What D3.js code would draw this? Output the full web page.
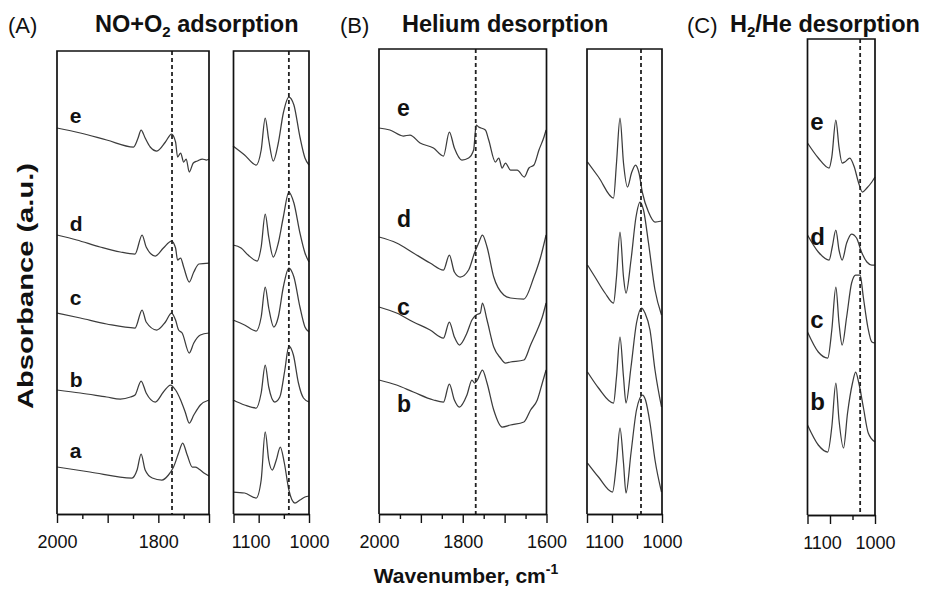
<!DOCTYPE html>
<html><head><meta charset="utf-8">
<script src="https://cdn.jsdelivr.net/npm/d3@7"></script>
<style>
body{margin:0;background:#fff}
svg{display:block}
text{font-family:"Liberation Sans",Arial,Helvetica,sans-serif;fill:#111}
</style>
</head><body>
<svg id="chart" width="925" height="589"></svg>
<script>
// ---------------- DATA (wavenumber cm-1, absorbance a.u.) ----------------
// Panel A, 2000-1700 window
const A1_e = [[2000,38.6],[1954,38.1],[1902,37.4],[1849,36.7],[1840,37.6],[1834,38.4],[1826,37.6],[1816,36.7],[1803,36.3],[1786,37.2],[1774,38.0],[1766,37.2],[1762,35.7],[1756,36.1],[1750,35.2],[1745,35.5],[1739,34.2],[1731,35.1],[1723,35.3],[1713,35.5],[1705,35.4],[1700,35.5]];
const A1_d = [[2000,27.9],[1961,27.4],[1915,26.7],[1875,26.2],[1846,26.0],[1832,27.9],[1824,26.7],[1806,25.8],[1790,26.6],[1774,27.3],[1766,26.6],[1762,25.4],[1756,25.6],[1750,24.7],[1739,23.2],[1730,24.2],[1720,25.0],[1700,25.1]];
const A1_c = [[2000,20.1],[1954,19.6],[1902,19.0],[1846,18.6],[1832,20.4],[1824,19.2],[1803,18.4],[1786,19.2],[1774,20.1],[1766,19.4],[1760,18.4],[1753,18.1],[1739,16.1],[1730,17.1],[1717,17.9],[1700,18.1]];
const A1_b = [[2000,12.4],[1954,12.1],[1902,11.7],[1875,11.5],[1855,11.7],[1846,11.9],[1834,13.3],[1824,12.1],[1806,11.2],[1790,12.2],[1776,12.9],[1766,12.4],[1756,11.4],[1747,10.2],[1739,9.1],[1730,9.9],[1717,10.9],[1700,11.4]];
const A1_a = [[2000,4.7],[1935,4.2],[1852,3.6],[1842,4.4],[1834,6.0],[1826,4.4],[1812,3.6],[1793,3.4],[1780,3.9],[1770,4.7],[1760,6.1],[1752,7.1],[1743,5.9],[1733,4.7],[1727,4.7],[1720,4.5],[1710,4.1],[1700,3.8]];
// Panel A, 1150-1000 window
const A2_e = [[1151,36.8],[1128,35.9],[1105,34.9],[1095,36.4],[1087,39.6],[1080,37.4],[1071,35.3],[1061,37.1],[1051,40.1],[1040,41.7],[1030,40.9],[1018,37.7],[1008,35.6],[1000,34.9]];
const A2_d = [[1151,26.9],[1135,26.6],[1121,25.9],[1103,25.3],[1095,26.7],[1087,30.0],[1080,27.7],[1071,25.7],[1061,27.1],[1051,29.7],[1040,32.2],[1030,31.1],[1018,28.1],[1008,26.1],[1000,25.2]];
const A2_c = [[1151,19.4],[1128,18.9],[1105,18.3],[1095,19.7],[1087,22.7],[1080,20.6],[1070,18.7],[1061,19.7],[1051,22.7],[1040,24.6],[1030,23.7],[1018,20.7],[1008,18.7],[1000,18.2]];
const A2_b = [[1151,11.4],[1128,10.9],[1105,10.6],[1095,12.1],[1087,14.9],[1080,12.7],[1068,11.2],[1058,11.7],[1048,14.4],[1040,16.8],[1031,15.9],[1021,13.1],[1011,11.6],[1000,11.2]];
const A2_a = [[1151,2.2],[1128,2.1],[1105,1.6],[1095,3.4],[1087,8.2],[1080,5.4],[1073,4.4],[1065,5.4],[1057,6.7],[1049,5.1],[1040,2.4],[1028,1.1],[1018,1.4],[1008,1.7],[1000,1.8]];
// Panel B, 2000-1600 window
const B1_e = [[2000,38.6],[1974,38.4],[1942,37.8],[1926,37.9],[1902,37.1],[1870,36.6],[1846,35.8],[1832,38.2],[1820,36.6],[1802,35.4],[1786,35.6],[1774,36.4],[1768,38.9],[1762,38.7],[1746,38.4],[1738,37.4],[1722,35.2],[1714,35.6],[1706,34.6],[1698,35.1],[1686,34.4],[1670,34.4],[1653,33.7],[1642,34.6],[1630,34.9],[1618,36.4],[1606,37.7],[1601,38.4]];
const B1_d = [[2000,27.7],[1958,27.1],[1918,26.1],[1878,25.1],[1846,24.4],[1832,25.9],[1820,24.2],[1806,23.7],[1786,24.4],[1772,26.1],[1762,27.1],[1753,27.9],[1742,26.7],[1726,23.7],[1702,21.9],[1686,21.6],[1654,21.5],[1630,23.7],[1614,25.7],[1601,27.9]];
const B1_c = [[2000,20.7],[1958,20.1],[1918,19.2],[1878,18.4],[1846,17.6],[1832,19.2],[1820,17.7],[1808,16.9],[1790,18.1],[1778,19.4],[1768,19.9],[1758,20.1],[1753,21.1],[1742,19.4],[1726,16.7],[1710,15.6],[1698,15.1],[1686,15.2],[1654,15.4],[1638,16.9],[1622,18.4],[1610,19.7],[1601,21.1]];
const B1_b = [[2000,13.4],[1958,12.9],[1918,12.2],[1870,11.4],[1846,11.2],[1832,13.0],[1820,11.4],[1808,10.7],[1790,11.9],[1778,13.4],[1772,13.1],[1765,13.4],[1753,14.4],[1742,13.1],[1726,10.4],[1706,8.7],[1686,8.9],[1654,9.2],[1638,10.4],[1622,11.4],[1610,13.1],[1601,14.4]];
// Panel B, 1150-1000 window
const B2_e = [[1149,35.2],[1127,33.7],[1097,31.6],[1091,35.1],[1084,39.6],[1077,35.1],[1069,32.7],[1061,34.1],[1053,34.9],[1046,34.1],[1039,32.1],[1027,30.2],[1014,29.2],[1001,29.3]];
const B2_d = [[1149,24.9],[1134,23.7],[1114,22.1],[1097,21.1],[1091,23.7],[1084,28.2],[1077,23.7],[1072,22.1],[1062,25.4],[1052,29.7],[1044,31.2],[1037,30.4],[1027,27.1],[1014,22.4],[1001,19.9]];
const B2_c = [[1149,14.2],[1127,12.6],[1097,11.1],[1091,13.7],[1084,17.7],[1077,13.7],[1072,11.1],[1062,14.7],[1051,19.1],[1041,20.6],[1034,20.1],[1024,18.4],[1014,14.4],[1001,10.7]];
const B2_b = [[1149,5.1],[1127,3.7],[1099,2.2],[1091,5.1],[1084,8.6],[1077,5.1],[1072,2.1],[1062,6.1],[1051,10.4],[1039,11.9],[1033,11.4],[1024,9.1],[1014,5.4],[1001,2.2]];
// Panel C, 1150-1000 window
const C_e = [[1150,37.1],[1126,35.6],[1102,34.6],[1096,35.7],[1087,39.4],[1080,36.7],[1073,35.1],[1067,35.2],[1056,35.6],[1046,34.7],[1037,33.2],[1028,32.2],[1018,32.6],[1007,33.2],[1000,33.7]];
const C_d = [[1150,27.9],[1126,26.2],[1102,25.4],[1095,26.7],[1087,28.4],[1080,26.4],[1073,25.4],[1063,27.1],[1052,28.0],[1041,27.6],[1030,26.2],[1018,25.2],[1007,24.9],[1000,24.9]];
const C_c = [[1150,18.2],[1126,16.2],[1105,15.6],[1096,18.4],[1087,22.7],[1080,19.1],[1073,16.9],[1063,19.7],[1052,23.1],[1043,23.9],[1033,23.9],[1026,21.7],[1016,18.7],[1007,17.2],[1000,17.1]];
const C_b = [[1150,8.9],[1126,6.9],[1105,6.2],[1096,8.7],[1087,13.1],[1080,9.4],[1070,6.6],[1061,10.1],[1050,13.1],[1043,14.2],[1036,13.1],[1026,10.7],[1015,8.1],[1000,7.2]];

// trace labels and their heights
const lettersA = ["e","d","c","b","a"];
const lettersA_y = [39.1,28.3,20.9,12.7,5.6];
const lettersB = ["e","d","c","b"];
const lettersB_y = [39.8,28.7,19.9,10.2];
const lettersC = ["e","d","c","b"];
const lettersC_y = [38.4,26.9,18.6,10.4];

// reference (dashed) wavenumbers
const dashA1 = 1773, dashA2 = 1040, dashB1 = 1769, dashB2 = 1042, dashC = 1033;

// axis ticks
const majorHigh3 = [2000,1900,1800,1700], minorHigh3 = [1950,1850,1750], labelsA1 = [2000,1800];
const majorHigh4 = [2000,1900,1800,1700,1600], minorHigh4 = [1950,1850,1750,1650], labelsB1 = [2000,1800,1600];
const majorLow = [1150,1100,1000], minorLow = [1050], labelsLow = [1100,1000];

const titles = [
  {lab:"(A)", main:["NO+O","2"," adsorption"]},
  {lab:"(B)", main:["Helium desorption"]},
  {lab:"(C)", main:["H","2","/He desorption"]}
];
const xTitle = ["Wavenumber, cm","-1"];
const yTitle = "Absorbance (a.u.)";

// ---------------- DRAW ----------------
const svg = d3.select("#chart");
const y = d3.scaleLinear().domain([0, 10]).range([514, 414]);

const panels = [
  {domain:[2000,1700], range:[57,209],  top:46.3, bottom:0,    major:majorHigh3, minor:minorHigh3, labels:labelsA1, dash:dashA1, traces:[A1_e,A1_d,A1_c,A1_b,A1_a], letters:lettersA, lettersY:lettersA_y, letterX:1975, fs:21},
  {domain:[1150,1000], range:[233.5,309], top:46.3, bottom:0,  major:majorLow, minor:minorLow, labels:labelsLow, dash:dashA2, traces:[A2_e,A2_d,A2_c,A2_b,A2_a]},
  {domain:[2000,1600], range:[379,546.5], top:46.5, bottom:0,  major:majorHigh4, minor:minorHigh4, labels:labelsB1, dash:dashB1, traces:[B1_e,B1_d,B1_c,B1_b], letters:lettersB, lettersY:lettersB_y, letterX:1957, fs:23},
  {domain:[1150,1000], range:[587,662], top:46.5, bottom:0,    major:majorLow, minor:minorLow, labels:labelsLow, dash:dashB2, traces:[B2_e,B2_d,B2_c,B2_b]},
  {domain:[1150,1000], range:[807.5,875], top:47.5, bottom:-0.1, major:majorLow, minor:minorLow, labels:labelsLow, dash:dashC, traces:[C_e,C_d,C_c,C_b], letters:lettersC, lettersY:lettersC_y, letterX:1144, fs:24}
];

panels.forEach(p => {
  const x = d3.scaleLinear().domain(p.domain).range(p.range);
  const g = svg.append("g");
  const yt = y(p.top), yb = y(p.bottom);

  // traces
  const line = d3.line().x(d => x(d[0])).y(d => y(d[1])).curve(d3.curveMonotoneX);
  g.selectAll("path.trace").data(p.traces).join("path")
    .attr("class","trace").attr("d", line)
    .attr("fill","none").attr("stroke","#3c3c3c").attr("stroke-width",1.25).attr("stroke-linejoin","round");

  // dashed reference line
  g.append("line").attr("x1", x(p.dash)).attr("x2", x(p.dash)).attr("y1", yt).attr("y2", yb)
    .attr("stroke","#222").attr("stroke-width",1.8).attr("stroke-dasharray","4,3");

  // frame
  g.append("path").attr("d", `M${p.range[0]},${yb}V${yt}H${p.range[1]}V${yb}`)
    .attr("fill","none").attr("stroke","#111").attr("stroke-width",1.7);

  // axes
  const axMaj = d3.axisBottom(x).tickValues(p.major).tickSize(9).tickSizeOuter(0)
    .tickFormat(d => p.labels.includes(d) ? d : "");
  const axMin = d3.axisBottom(x).tickValues(p.minor).tickSize(5).tickSizeOuter(0).tickFormat("");
  const ga = g.append("g").attr("transform", `translate(0,${yb})`).call(axMaj);
  const gm = g.append("g").attr("transform", `translate(0,${yb})`).call(axMin);
  [ga, gm].forEach(a => {
    a.select(".domain").attr("stroke","#111").attr("stroke-width",1.7);
    a.selectAll(".tick line").attr("stroke","#111").attr("stroke-width",1.4);
  });
  ga.selectAll(".tick text").attr("y",34).attr("dy",0)
    .attr("dx", d => d === 1100 ? -8 : 0)
    .style("font-size","18px").attr("fill","#222");

  // letters
  if (p.letters) {
    g.selectAll("text.lt").data(p.letters).join("text").attr("class","lt")
      .attr("x", x(p.letterX)).attr("y", (d,i) => y(p.lettersY[i]))
      .style("font-size", p.fs + "px").style("font-weight","bold").text(d => d);
  }
});

// titles
const titlePos = [{lx:8, mx:95}, {lx:340, mx:402}, {lx:687, mx:730}];
titles.forEach((t,i) => {
  svg.append("text").attr("x", titlePos[i].lx).attr("y", 33).style("font-size","22px").text(t.lab);
  const tt = svg.append("text").attr("x", titlePos[i].mx).attr("y", 32).style("font-size","23.5px").style("font-weight","bold");
  t.main.forEach((s,k) => {
    const ts = tt.append("tspan").text(s);
    if (t.main.length === 3 && k === 1) ts.style("font-size","15px").attr("dy", 5);
    if (t.main.length === 3 && k === 2) ts.attr("dy", -5);
  });
});

// axis titles
const xt = svg.append("text").attr("x", 466).attr("y", 583).attr("text-anchor","middle")
  .style("font-size","21px").style("font-weight","bold");
xt.append("tspan").text(xTitle[0]);
xt.append("tspan").text(xTitle[1]).style("font-size","14px").attr("dy",-9);

svg.append("text").attr("transform","translate(33,286) rotate(-90)").attr("text-anchor","middle")
  .attr("textLength", 246).attr("lengthAdjust","spacingAndGlyphs")
  .style("font-size","22px").style("font-weight","bold").text(yTitle);
</script>
</body></html>
